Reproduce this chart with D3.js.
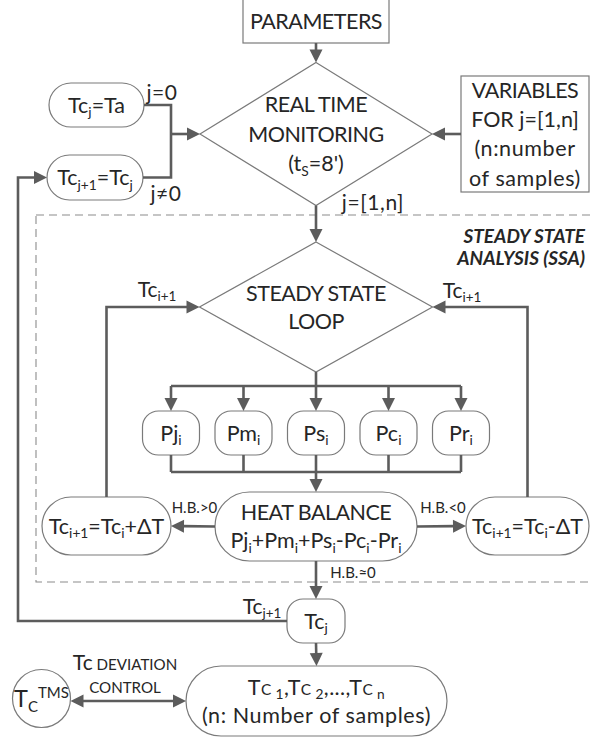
<!DOCTYPE html>
<html>
<head>
<meta charset="utf-8">
<title>SSA flowchart</title>
<script src="https://d3js.org/d3.v7.min.js"></script>
<style>
body { margin: 0; background: #fff; }
svg { display: block; font-family: Lato, "Noto Sans", sans-serif; }
</style>
</head>
<body>
<script>
// labels: "_{..}" subscript, "^{..}" superscript, "~{..}" small caps
var paramLabel = ["PARAMETERS"];
var monitorLabel = ["REAL TIME", "MONITORING", "(t_{S}=8')"];
var variablesLabel = ["VARIABLES", "FOR j=[1,n]", "(n:number", "of samples)"];
var initLabels = ["Tc_{j}=Ta", "Tc_{j+1}=Tc_{j}"];
var loopLabel = ["STEADY STATE", "LOOP"];
var powerTerms = ["Pj", "Pm", "Ps", "Pc", "Pr"];
var balanceLabel = ["HEAT BALANCE", "Pj_{i}+Pm_{i}+Ps_{i}-Pc_{i}-Pr_{i}"];
var updateLabels = ["Tc_{i+1}=Tc_{i}+ΔT", "Tc_{i+1}=Tc_{i}-ΔT"];
var resultLabel = ["Tc_{j}"];
var outputLabel = ["T~{C}_{ 1},T~{C}_{ 2},...,T~{C}_{ n}", "(n: Number of samples)"];
var tmsLabel = ["T_{C}^{TMS}"];
var branchLabels = ["j=0", "j≠0", "j=[1,n]", "Tc_{i+1}", "Tc_{i+1}", "Tc_{j+1}"];
var balanceBranches = ["H.B.>0", "H.B.<0", "H.B.≈0"];
var ssaTitle = ["STEADY STATE", "ANALYSIS (SSA)"];
var devLabel = ["Tc~{ DEVIATION}", "~{CONTROL}"];

var width = 590, height = 740;
var LINE = "#5c5c5c", EDGE = "#7a7a7a", INK = "#262626";
var FS = 21.5, FS_LBL = 21, FS_SM = 15;

var svg = d3.select("body").append("svg")
  .attr("width", width).attr("height", height);

// ---- layout ----
var mainX = 316;
var pX = d3.scalePoint().domain(powerTerms).range([171, 461]);

var N = {
  params:    {shape: "rect",  x: mainX, y: 21,  w: 146, h: 44, lines: paramLabel},
  monitor:   {shape: "diam",  x: mainX, y: 134, w: 232, h: 143, lines: monitorLabel},
  tcInit:    {shape: "pill",  x: 96.5,  y: 105, w: 95,  h: 44, lines: [initLabels[0]]},
  tcNext:    {shape: "pill",  x: 95,    y: 177.5, w: 96, h: 45, lines: [initLabels[1]]},
  variables: {shape: "rect",  x: 525,   y: 134, w: 128, h: 116, lines: variablesLabel},
  loop:      {shape: "diam",  x: mainX, y: 307, w: 233, h: 130, lines: loopLabel},
  balance:   {shape: "pill",  x: mainX, y: 526.5, w: 202, h: 69, lines: balanceLabel},
  upPlus:    {shape: "pill",  x: 106.5, y: 526, w: 129, h: 58, lines: [updateLabels[0]]},
  upMinus:   {shape: "pill",  x: 527.5, y: 526, w: 123, h: 58, lines: [updateLabels[1]]},
  tcj:       {shape: "round", x: mainX, y: 621, w: 58,  h: 44, lines: resultLabel},
  output:    {shape: "pill",  x: 316.5, y: 701, w: 261, h: 70, lines: outputLabel},
  tms:       {shape: "circle",x: 41.5,  y: 698.5, w: 58, h: 58, lines: tmsLabel}
};
var pNodes = powerTerms.map(function (p) {
  return {shape: "round", x: pX(p), y: 433, w: 57, h: 44, lines: [p + "_{i}"]};
});

function topOf(n) { return [n.x, n.y - n.h / 2]; }
function botOf(n) { return [n.x, n.y + n.h / 2]; }
function lftOf(n) { return [n.x - n.w / 2, n.y]; }
function rgtOf(n) { return [n.x + n.w / 2, n.y]; }

// rich text with sub/superscripts
function rich(sel, str, fs) {
  var re = /([_^~])\{([^}]*)\}|([^_^~]+)/g, m, shift = 0;
  while ((m = re.exec(str))) {
    var kind = m[1] || "", txt = m[1] ? m[2] : m[3];
    var size = kind === "" ? fs : kind === "~" ? fs * 0.72 : fs * 0.64;
    var target = kind === "_" ? fs * 0.22 : kind === "^" ? -fs * 0.38 : 0;
    sel.append("tspan").attr("font-size", size).attr("dy", target - shift).text(txt);
    shift = target;
  }
}

// Lato is wider in caps and narrower in lowercase than the original font
function spacingFor(ln) {
  if (/~\{C\}/.test(ln)) return 0.4;
  if (/[_^~]\{/.test(ln)) return 0;
  var up = (ln.match(/[A-Z]/g) || []).length, lo = (ln.match(/[a-z]/g) || []).length;
  if (lo === 0 && up > 2) return -0.5;
  if (lo > up) return 0.6;
  return 0;
}

function textBlock(g, lines, x, y, fs, spacing, anchor, ls) {
  var y0 = y - (lines.length - 1) * spacing / 2;
  lines.forEach(function (ln, i) {
    var t = g.append("text")
      .attr("x", x).attr("y", y0 + i * spacing + fs * 0.36)
      .attr("text-anchor", anchor || "middle")
      .attr("fill", INK)
      .attr("font-size", fs)
      .attr("letter-spacing", ls === undefined ? spacingFor(ln) : ls);
    rich(t, ln, fs);
  });
}

var gShapes = svg.append("g");
var gLines = svg.append("g");
var gText = svg.append("g");

// dashed SSA region
gShapes.append("rect")
  .attr("x", 36).attr("y", 215).attr("width", 580).attr("height", 367)
  .attr("fill", "none").attr("stroke", "#8c8c8c").attr("stroke-width", 1.1)
  .attr("stroke-dasharray", "8,5");

function drawNode(n) {
  var s;
  if (n.shape === "diam") {
    s = gShapes.append("path").attr("d", d3.line()([topOf(n), rgtOf(n), botOf(n), lftOf(n)]) + "Z");
  } else if (n.shape === "circle") {
    s = gShapes.append("circle").attr("cx", n.x).attr("cy", n.y).attr("r", n.w / 2);
  } else {
    var r = n.shape === "pill" ? n.h / 2 : n.shape === "round" ? 16 : 0;
    s = gShapes.append("rect")
      .attr("x", n.x - n.w / 2).attr("y", n.y - n.h / 2)
      .attr("width", n.w).attr("height", n.h).attr("rx", r);
  }
  s.attr("fill", "#fff").attr("stroke", EDGE).attr("stroke-width", 1.2);
  var sp = n.lines.length === 4 ? 29.3 : (n === N.monitor ? 29.5 : 28);
  textBlock(gText, n.lines, n.x, n.y, n === N.tms ? FS + 2 : FS, sp);
}
Object.keys(N).forEach(function (k) { drawNode(N[k]); });
pNodes.forEach(drawNode);

// connectors
function arrow(pts, heads) {
  heads = heads === undefined ? "end" : heads;
  var p = pts.map(function (d) { return d.slice(); });
  var HL = 13, HW = 6.5;
  function head(tip, from) {
    var dx = tip[0] - from[0], dy = tip[1] - from[1], L = Math.hypot(dx, dy);
    var ux = dx / L, uy = dy / L, bx = tip[0] - ux * HL, by = tip[1] - uy * HL;
    gLines.append("path")
      .attr("d", "M" + tip + "L" + [bx - uy * HW, by + ux * HW] + "L" + [bx + uy * HW, by - ux * HW] + "Z")
      .attr("fill", LINE);
    return [bx + ux, by + uy];
  }
  if (heads === "end" || heads === "both") p[p.length - 1] = head(pts[pts.length - 1], pts[pts.length - 2]);
  if (heads === "both") p[0] = head(pts[0], pts[1]);
  gLines.append("path").attr("d", d3.line()(p))
    .attr("fill", "none").attr("stroke", LINE).attr("stroke-width", 2.6);
}

var joinX = 171, busTop = 386, busBot = 472, returnX = 18;
arrow([botOf(N.params), topOf(N.monitor)]);
arrow([rgtOf(N.tcInit), [joinX, N.tcInit.y], [joinX, N.tcNext.y], rgtOf(N.tcNext)], "none");
arrow([[joinX, N.monitor.y], lftOf(N.monitor)]);
arrow([lftOf(N.variables), rgtOf(N.monitor)]);
arrow([botOf(N.monitor), topOf(N.loop)]);
arrow([topOf(N.upPlus), [N.upPlus.x, N.loop.y], lftOf(N.loop)]);
arrow([topOf(N.upMinus), [N.upMinus.x, N.loop.y], rgtOf(N.loop)]);
arrow([botOf(N.loop), [N.loop.x, busTop]], "none");
arrow([[pX.range()[0], busTop], [pX.range()[1], busTop]], "none");
pNodes.forEach(function (n) {
  arrow([[n.x, busTop], topOf(n)]);
  arrow([botOf(n), [n.x, busBot]], "none");
});
arrow([[pX.range()[0], busBot], [pX.range()[1], busBot]], "none");
arrow([[N.balance.x, busBot], topOf(N.balance)]);
arrow([lftOf(N.balance), rgtOf(N.upPlus)]);
arrow([rgtOf(N.balance), lftOf(N.upMinus)]);
arrow([botOf(N.balance), topOf(N.tcj)]);
arrow([lftOf(N.tcj), [returnX, N.tcj.y], [returnX, N.tcNext.y], lftOf(N.tcNext)]);
arrow([botOf(N.tcj), topOf(N.output)]);
arrow([[N.tms.x + N.tms.w / 2, N.output.y], lftOf(N.output)], "both");

// branch labels
var lblPos = [[162, 92], [166, 193], [373, 202], [157, 289], [462, 290], [262, 606]];
branchLabels.forEach(function (l, i) {
  textBlock(gText, [l], lblPos[i][0], lblPos[i][1], FS_LBL, 0);
});
var hbPos = [[194.5, 508], [443, 508], [353, 573]];
balanceBranches.forEach(function (l, i) {
  textBlock(gText, [l], hbPos[i][0], hbPos[i][1], FS_SM, 0);
});
textBlock(gText, devLabel, 125, 673.5, 21, 23);

// SSA title
var ssa = gText.append("g").attr("font-weight", "bold").attr("font-style", "italic");
textBlock(ssa, ssaTitle, 585, 247, 19, 22, "end", 0);
</script>
</body>
</html>
